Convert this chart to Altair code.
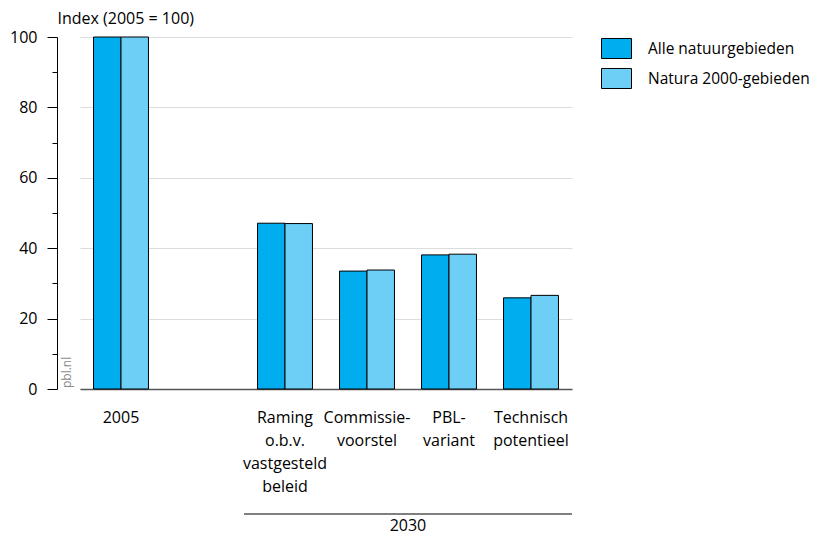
import altair as alt
import pandas as pd

# categories (label lines separated by "|"); " " is the empty gap slot
categories = ["2005", " ", "Raming|o.b.v.|vastgesteld|beleid", "Commissie-|voorstel",
              "PBL-|variant", "Technisch|potentieel"]
bar_categories = ["2005", "Raming|o.b.v.|vastgesteld|beleid", "Commissie-|voorstel",
                  "PBL-|variant", "Technisch|potentieel"]
series = ["Alle natuurgebieden", "Natura 2000-gebieden"]
alle = [100, 47.1, 33.5, 38.1, 25.9]
natura = [100, 47.0, 33.8, 38.3, 26.6]
colors = ["#00AEEF", "#6DCFF6"]
major_ticks = [0, 20, 40, 60, 80, 100]
minor_ticks = [10, 30, 50, 70, 90]
group_label = "2030"

rows = []
for c, a, n in zip(bar_categories, alle, natura):
    rows.append({"cat": c, "series": series[0], "value": a})
    rows.append({"cat": c, "series": series[1], "value": n})
df = pd.DataFrame(rows)

W, H = 492, 352
FONT = "Open Sans"
FS = 16
HALF_GAP = 13.5

xscale = alt.Scale(domain=categories, paddingInner=0.33, paddingOuter=0.165)
yscale = alt.Scale(domain=[0, 100], nice=False)
x_axis = alt.Axis(title=None, ticks=False, labelExpr="split(datum.value, '|')",
                  labelLineHeight=23, labelFontSize=FS, labelPadding=20,
                  labelColor="black", labelAngle=0, domainColor="#555",
                  domainWidth=1.5, grid=False)

bars = alt.Chart(df).mark_bar(stroke="black", strokeWidth=1).encode(
    x=alt.X("cat:N", scale=xscale, sort=categories, axis=x_axis),
    xOffset=alt.XOffset("series:N", sort=series, scale=alt.Scale(paddingInner=0, paddingOuter=0)),
    y=alt.Y("value:Q", scale=yscale,
            axis=alt.Axis(orient="left", values=major_ticks, offset=23, tickSize=10,
                          tickColor="black", domainColor="black", labelPadding=10,
                          labelFontSize=FS, labelColor="black", grid=True,
                          gridColor="#dcdcdc", title="Index (2005 = 100)", titleAngle=0,
                          titleAlign="left", titleX=0, titleY=-14,
                          titleBaseline="alphabetic", titleFontSize=FS,
                          titleFontWeight="normal", titleColor="black")),
    color=alt.Color("series:N", sort=series, scale=alt.Scale(domain=series, range=colors),
                    legend=alt.Legend(title=None, orient="none", legendX=521, legendY=-4,
                                      symbolType="M-1,-0.667L1,-0.667L1,0.667L-1,0.667Z",
                                      symbolSize=900, symbolStrokeColor="black",
                                      symbolStrokeWidth=1, labelFontSize=15.5,
                                      labelOffset=16, rowPadding=2, padding=0,
                                      labelLimit=400, labelColor="black")),
)

minor = alt.Chart(df).mark_point(opacity=0).encode(
    x=alt.X("cat:N", scale=xscale, sort=categories, axis=x_axis),
    y=alt.Y("value:Q", scale=yscale,
            axis=alt.Axis(orient="left", values=minor_ticks, offset=23, tickSize=5,
                          tickColor="black", labels=False, domain=False, grid=False,
                          title=None)),
)

bracket_df = pd.DataFrame({"start": [bar_categories[1]], "end": [bar_categories[-1]],
                           "mid": [bar_categories[2]], "label": [group_label]})

bracket = alt.Chart(bracket_df).mark_rule(color="black", strokeWidth=1,
                                          xOffset=-HALF_GAP, x2Offset=HALF_GAP).encode(
    x=alt.X("start:N", scale=xscale, sort=categories, axis=x_axis, bandPosition=0),
    x2=alt.X2("end:N", bandPosition=1),
    y=alt.value(H + 125),
)

group_text = alt.Chart(bracket_df).mark_text(font=FONT, fontSize=FS, color="black",
                                             baseline="alphabetic", align="center",
                                             dx=HALF_GAP).encode(
    x=alt.X("mid:N", scale=xscale, sort=categories, axis=x_axis, bandPosition=1),
    y=alt.value(H + 142),
    text="label:N",
)

pbl = alt.Chart(bracket_df).mark_text(text="pbl.nl", font=FONT, fontSize=12, color="#8a8a8a",
                                      angle=270, align="left", baseline="middle").encode(
    x=alt.value(-13), y=alt.value(H - 1),
)

chart = alt.layer(bars, minor, bracket, group_text, pbl).resolve_axis(y="independent").properties(
    width=W, height=H,
    autosize=alt.AutoSizeParams(type="none"),
    padding={"left": 72, "top": 29, "right": 239, "bottom": 147},
).configure(font=FONT).configure_view(stroke=None)

chart.save("out.html", embed_options={"renderer": "svg", "actions": False})
